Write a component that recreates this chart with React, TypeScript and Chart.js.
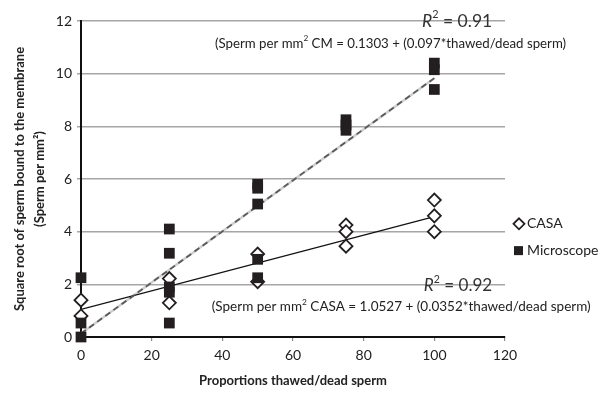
import React, { useEffect, useRef } from "react";
import { Chart, registerables } from "chart.js";

Chart.register(...registerables);

// Microscope observations
const microscopeX = [0, 0, 0, 25, 25, 25, 25, 25, 50, 50, 50, 50, 50, 75, 75, 75, 100, 100, 100];
const microscopeY = [2.25, 0.53, 0.0, 4.1, 3.18, 1.9, 1.7, 0.53, 5.8, 5.65, 5.05, 2.95, 2.25, 8.25, 8.05, 7.85, 10.4, 10.15, 9.4];

// CASA observations
const casaX = [0, 0, 25, 25, 50, 50, 75, 75, 75, 100, 100, 100];
const casaY = [1.4, 0.8, 2.22, 1.3, 3.15, 2.1, 4.25, 4.0, 3.45, 5.2, 4.6, 4.0];

// Regression line end points (as drawn)
const cmLineX = [0, 100];
const cmLineY = [0.13, 9.83];
const casaLineX = [0, 100];
const casaLineY = [1.05, 4.57];

const xTicks = [0, 20, 40, 60, 80, 100, 120];
const yTicks = [0, 2, 4, 6, 8, 10, 12];

const FONT = "Lato, 'Open Sans', sans-serif";
const INK = "#231f20";

const pts = (xs: number[], ys: number[]) => xs.map((x, i) => ({ x, y: ys[i] }));

type Part = { t: string; italic?: boolean; sup?: boolean };

// draws mixed-style text between xLeft and xRight, sizing the font to fit that span
function drawRich(ctx: CanvasRenderingContext2D, parts: Part[], xLeft: number, xRight: number, yMid: number, color: string) {
  const fontFor = (p: Part, size: number) => `${p.italic ? "italic " : ""}${p.sup ? size * 0.62 : size}px ${FONT}`;
  const measure = (size: number) => {
    let total = 0;
    parts.forEach((p) => {
      ctx.font = fontFor(p, size);
      total += ctx.measureText(p.t).width;
    });
    return total;
  };
  const size = (12 * (xRight - xLeft)) / measure(12);
  let x = xLeft;
  ctx.fillStyle = color;
  ctx.textAlign = "left";
  ctx.textBaseline = "middle";
  parts.forEach((p) => {
    ctx.font = fontFor(p, size);
    ctx.fillText(p.t, x, p.sup ? yMid - size * 0.38 : yMid);
    x += ctx.measureText(p.t).width;
  });
}

const annotations = {
  id: "annotations",
  afterDatasetsDraw(chart: any) {
    const { ctx, scales } = chart;
    const xs = scales.x;
    const ys = scales.y;
    const px = (v: number) => xs.getPixelForValue(v);
    const py = (v: number) => ys.getPixelForValue(v);
    ctx.save();
    drawRich(ctx, [{ t: "R", italic: true }, { t: "2", sup: true }, { t: " = 0.91" }], px(96.5), px(116.4), py(12.0), "#333");
    drawRich(
      ctx,
      [{ t: "(Sperm per mm" }, { t: "2", sup: true }, { t: " CM = 0.1303 + (0.097*thawed/dead sperm)" }],
      px(37.9),
      px(137.3),
      py(11.14),
      "#222"
    );
    drawRich(ctx, [{ t: "R", italic: true }, { t: "2", sup: true }, { t: " = 0.92" }], px(97.0), px(116.4), py(1.95), "#333");
    drawRich(
      ctx,
      [{ t: "(Sperm per mm" }, { t: "2", sup: true }, { t: " CASA = 1.0527 + (0.0352*thawed/dead sperm)" }],
      px(37.0),
      px(144.4),
      py(1.14),
      "#222"
    );

    // legend
    const lx = chart.chartArea.right + 14;
    const y1 = py(4.3);
    const y2 = py(3.28);
    ctx.lineWidth = 1.8;
    ctx.strokeStyle = INK;
    ctx.fillStyle = "#fff";
    ctx.beginPath();
    ctx.moveTo(lx, y1 - 5.5);
    ctx.lineTo(lx + 5.5, y1);
    ctx.lineTo(lx, y1 + 5.5);
    ctx.lineTo(lx - 5.5, y1);
    ctx.closePath();
    ctx.fill();
    ctx.stroke();
    ctx.fillStyle = INK;
    ctx.fillRect(lx - 5, y2 - 4.5, 9, 9);
    ctx.fillStyle = "#222";
    ctx.font = `14px ${FONT}`;
    ctx.textAlign = "left";
    ctx.textBaseline = "middle";
    ctx.fillText("CASA", lx + 8, y1);
    ctx.fillText("Microscope", lx + 8, y2);
    ctx.restore();
  },
};

export default function App() {
  const ref = useRef<HTMLCanvasElement | null>(null);
  useEffect(() => {
    if (!ref.current) return;
    const chart = new Chart(ref.current, {
      type: "scatter",
      data: {
        datasets: [
          {
            label: "Microscope",
            data: pts(microscopeX, microscopeY),
            pointStyle: "rect",
            pointRadius: 7.6,
            backgroundColor: INK,
            borderColor: INK,
            borderWidth: 0,
            clip: false,
            order: 1,
          } as any,
          {
            label: "CASA",
            data: pts(casaX, casaY),
            pointStyle: "rectRot",
            pointRadius: 6.5,
            backgroundColor: "#ffffff",
            borderColor: INK,
            borderWidth: 1.8,
            clip: false,
            order: 2,
          } as any,
          {
            type: "line",
            label: "CM fit base",
            data: pts(cmLineX, cmLineY),
            borderColor: "#cfcfcf",
            borderWidth: 2.5,
            pointRadius: 0,
            order: 4,
          } as any,
          {
            type: "line",
            label: "CM fit",
            data: pts(cmLineX, cmLineY),
            borderColor: "#595959",
            borderWidth: 1.8,
            borderDash: [6, 4],
            pointRadius: 0,
            order: 3,
          } as any,
          {
            type: "line",
            label: "CASA fit",
            data: pts(casaLineX, casaLineY),
            borderColor: "#111",
            borderWidth: 1.2,
            pointRadius: 0,
            order: 3,
          } as any,
        ],
      },
      options: {
        responsive: false,
        animation: false,
        layout: { padding: { left: 0, top: 21, right: 101, bottom: 0 } },
        plugins: { legend: { display: false }, tooltip: { enabled: false } },
        scales: {
          x: {
            type: "linear",
            min: 0,
            max: 120,
            afterBuildTicks: (s: any) => {
              s.ticks = xTicks.map((v) => ({ value: v }));
            },
            afterFit: (s: any) => {
              s.height = 56;
            },
            ticks: { font: { family: FONT, size: 14 }, color: "#222", padding: 6 },
            grid: { drawOnChartArea: false, drawTicks: true, tickLength: 4, color: "#8c8c8c", lineWidth: 1.2 },
            border: { color: "#111", width: 2 },
            title: {
              display: true,
              text: "Proportions thawed/dead sperm",
              font: { family: FONT, size: 13, weight: "bold" },
              color: "#222",
              padding: { top: 0, bottom: 4 },
            },
          },
          y: {
            type: "linear",
            min: 0,
            max: 12,
            afterBuildTicks: (s: any) => {
              s.ticks = yTicks.map((v) => ({ value: v }));
            },
            afterFit: (s: any) => {
              s.width = 81;
            },
            ticks: { font: { family: FONT, size: 14 }, color: "#222", padding: 5 },
            grid: { color: "#a6a6a6", lineWidth: 1.5, tickLength: 4 },
            border: { color: "#111", width: 2 },
            title: {
              display: true,
              text: ["Square root of sperm bound to the membrane", "(Sperm per mm²)"],
              font: { family: FONT, size: 13, weight: "bold", lineHeight: 1.54 },
              color: "#222",
              padding: { top: 10, bottom: 0 },
            },
          },
        },
      },
      plugins: [annotations],
    });
    return () => chart.destroy();
  }, []);
  return (
    <div style={{ position: "fixed", left: 0, top: 0, width: 606, height: 393, background: "#fff" }}>
      <canvas ref={ref} width={606} height={393} />
    </div>
  );
}
